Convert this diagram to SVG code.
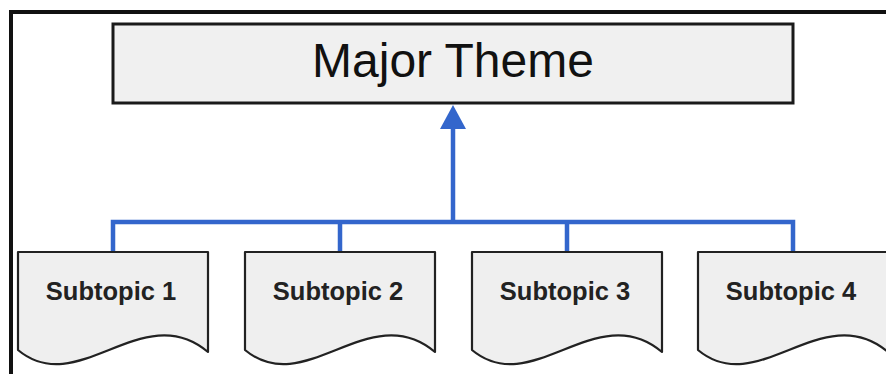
<svg xmlns="http://www.w3.org/2000/svg" width="886" height="374" viewBox="0 0 886 374">
<defs>
<style>
.frame{fill:none;stroke:#111;stroke-width:4}
.box{fill:#f0f0f0;stroke:#1a1a1a;stroke-width:3}
.doc{fill:#efefef;stroke:#222;stroke-width:2.2;stroke-linejoin:round}
.conn{fill:none;stroke:#3366cc;stroke-width:4.5}
.title{font-family:"Liberation Sans",Arial,sans-serif;font-size:48px;fill:#111;text-anchor:middle}
.sub{font-family:"Liberation Sans",Arial,sans-serif;font-size:25.5px;font-weight:bold;fill:#222;text-anchor:middle}
</style>
<path id="docshape" d="M0,0 H190 V100 C125,45 60,148 0,98 Z"/>
</defs>
<rect width="886" height="374" fill="#fff"/>
<path class="frame" d="M11,374 V12 H886"/>
<g id="connectors">
<path class="conn" d="M113,252 V222 H793 V252 M340,252 V222 M567,252 V222"/>
<path class="conn" d="M453,222 V127"/>
<path d="M453,105 L466,129 L440,129 Z" fill="#3366cc"/>
</g>
<g id="major-theme">
<rect class="box" x="113" y="24" width="680" height="79"/>
<text class="title" x="453" y="77">Major Theme</text>
</g>
<g id="subtopic-1">
<use href="#docshape" class="doc" x="18" y="252"/>
<text class="sub" x="111" y="300">Subtopic 1</text>
</g>
<g id="subtopic-2">
<use href="#docshape" class="doc" x="245" y="252"/>
<text class="sub" x="338" y="300">Subtopic 2</text>
</g>
<g id="subtopic-3">
<use href="#docshape" class="doc" x="472" y="252"/>
<text class="sub" x="565" y="300">Subtopic 3</text>
</g>
<g id="subtopic-4">
<use href="#docshape" class="doc" x="698" y="252"/>
<text class="sub" x="791" y="300">Subtopic 4</text>
</g>
</svg>
